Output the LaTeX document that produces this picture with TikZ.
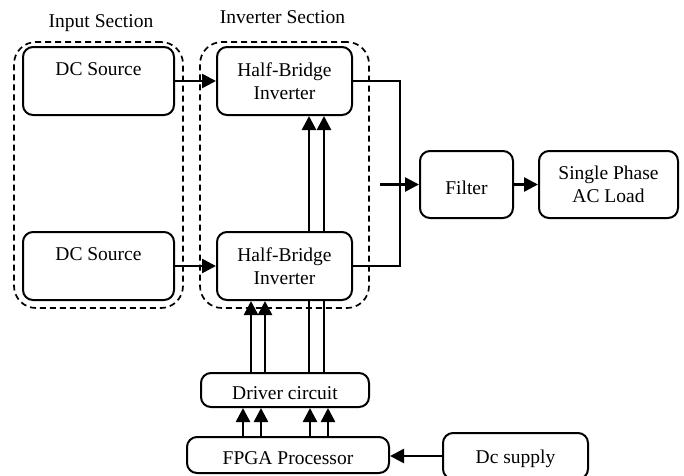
\documentclass[tikz,border=0pt]{standalone}
\usepackage{fontspec}
\setmainfont{Liberation Serif}
\usetikzlibrary{arrows.meta}
\begin{document}
\begin{tikzpicture}[x=1pt,y=-1pt,
  box/.style={draw, line width=2pt, rounded corners=10pt, inner sep=0pt, align=center, font=\fontsize{19.5}{23}\selectfont},
  grp/.style={draw, dash pattern=on 6pt off 4pt, line width=1.7pt, rounded corners=22pt, inner sep=0pt},
  lbl/.style={font=\fontsize{19.5}{23}\selectfont, inner sep=0pt},
  arr/.style={line width=2.6pt, -{Triangle[length=14pt,width=14pt]}},
  bar/.style={line width=2.6pt},
  wire/.style={line width=1.4pt}]
\useasboundingbox (0,0) rectangle (684,475);
% groups
\node[grp, minimum width=169pt, minimum height=266pt] (ins) at (98.5,175) {};
\node[grp, minimum width=169pt, minimum height=266pt] (inv) at (284.5,175) {};
\node[lbl, anchor=base] (insl) at (101,27) {Input Section};
\node[lbl, anchor=base] (invl) at (282.5,23) {Inverter Section};
% boxes
\node[box, minimum width=151pt, minimum height=68pt] (dc1) at (98.5,81) {DC Source\\\phantom{Inverter}};
\node[box, minimum width=151pt, minimum height=68pt] (dc2) at (98.5,266) {DC Source\\\phantom{Inverter}};
\node[box, minimum width=135pt, minimum height=68pt] (hb1) at (284.5,81) {Half-Bridge\\Inverter};
\node[box, minimum width=135pt, minimum height=68pt] (hb2) at (284.5,266) {Half-Bridge\\Inverter};
\node[box, minimum width=93pt, minimum height=67pt, text height=20pt, text depth=0pt] (filter) at (466.5,184.5) {Filter};
\node[box, minimum width=139pt, minimum height=67pt] (load) at (608.5,184.5) {Single Phase\\AC Load};
\node[box, minimum width=168pt, minimum height=34pt, text height=18pt, text depth=0pt] (driver) at (285,390) {Driver circuit};
\node[box, minimum width=202pt, minimum height=36pt, text height=18pt, text depth=0pt] (fpga) at (288,455) {FPGA Processor};
\node[box, minimum width=145pt, minimum height=46pt, text height=18pt, text depth=4pt] (dcs) at (515.5,456) {Dc supply};
% connectors
\draw[arr] (dc1.east) -- (hb1.west);
\draw[arr] (dc2.east) -- (hb2.west);
\coordinate (j1) at (400,81);
\coordinate (j2) at (400,266);
\draw[wire] (hb1.east) -- (j1) -- (j2) -- (hb2.east);
\coordinate (fin) at (380,184.5);
\draw[arr] (fin) -- (filter.west);
\draw[arr] (filter.east) -- (load.west);
\foreach \dx in {24,39} {
  \draw[bar] ([xshift=\dx pt]driver.north) -- ([xshift=\dx pt]driver.north |- hb2.south);
  \draw[arr] ([xshift=\dx pt]driver.north |- hb2.north) -- ([xshift=\dx pt]driver.north |- hb1.south);
}
\foreach \dx in {-34,-20} {
  \draw[arr] ([xshift=\dx pt]driver.north) -- ([xshift=\dx pt]driver.north |- hb2.south);
}
\foreach \dx in {-45,-27,22,40} {
  \draw[arr] ([xshift=\dx pt]fpga.north) -- ([xshift=\dx pt]fpga.north |- driver.south);
}
\draw[arr] (dcs.west) -- (dcs.west -| fpga.east);
\end{tikzpicture}
\end{document}
